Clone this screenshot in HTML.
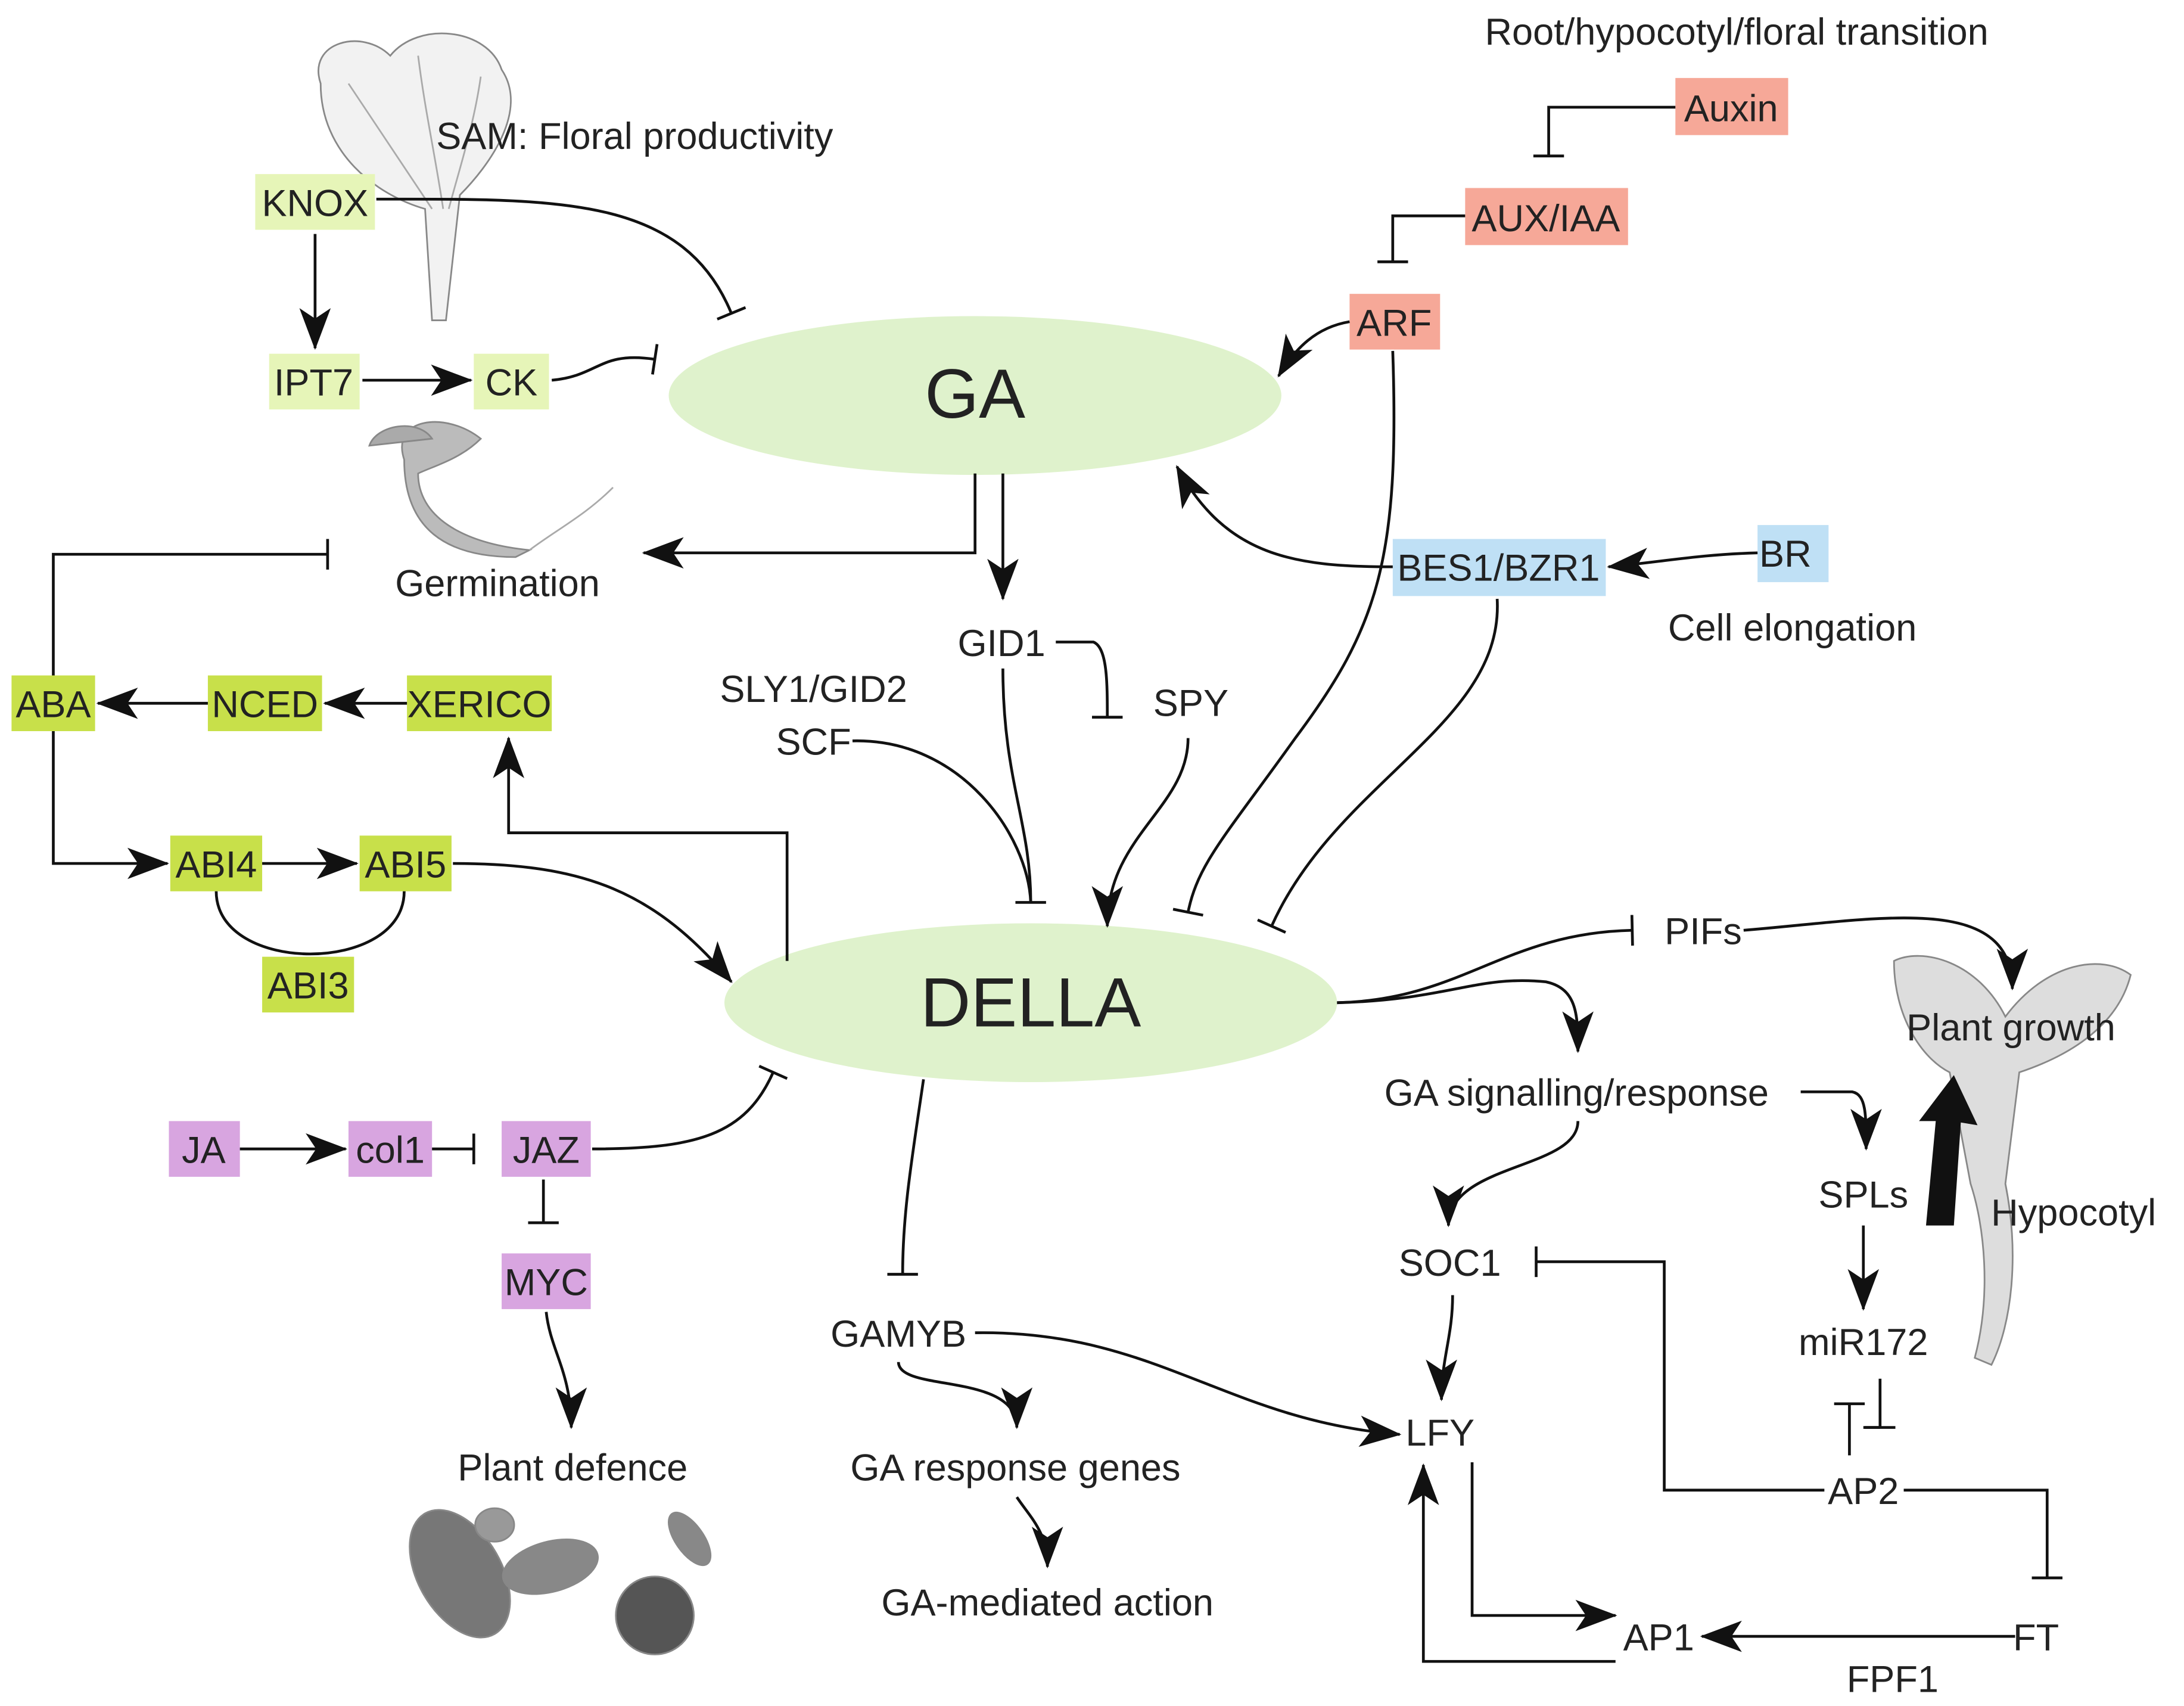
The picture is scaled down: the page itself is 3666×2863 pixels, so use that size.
<!DOCTYPE html>
<html><head><meta charset="utf-8"><style>
html,body{margin:0;padding:0;background:#fff;}
svg{display:block;}
text{font-family:"Liberation Sans",sans-serif;fill:#222;}
</style></head><body>
<svg width="3666" height="2863" viewBox="0 0 1568 1225" xmlns="http://www.w3.org/2000/svg">
<defs>
<marker id="a" markerUnits="userSpaceOnUse" markerWidth="30" markerHeight="30" viewBox="0 0 24 18" refX="23" refY="9" orient="auto"><path d="M0,0 L24,9 L0,18 L6,9 z" fill="#111"/></marker>
<marker id="b" markerUnits="userSpaceOnUse" markerWidth="4" markerHeight="24" viewBox="-2 -12 4 24" refX="0" refY="0" orient="auto"><path d="M0,-11 L0,11" stroke="#111" stroke-width="2"/></marker>
</defs>
<rect width="1568" height="1225" fill="#fff"/>

<!-- illustrations -->
<g stroke="#888" stroke-width="1.2">
<path d="M230,60 C220,30 260,20 280,40 C300,15 350,20 360,50 C380,80 350,120 330,140 L320,230 L310,230 L305,150 C270,140 230,110 230,60 z" fill="#f2f2f2"/>
<path d="M250,60 C270,90 290,120 310,150 M300,40 C305,80 312,110 318,150 M345,55 C340,90 330,120 322,150" fill="none" stroke="#aaa"/>
<path d="M290,330 C280,300 320,295 345,315 C330,330 310,335 300,340 C300,370 330,390 380,395 L370,400 C320,400 290,380 290,330 z" fill="#bbb"/>
<path d="M265,320 C270,305 300,300 310,315 Z" fill="#aaa"/>
<path d="M380,395 C400,380 420,370 440,350" fill="none" stroke="#aaa"/>
<ellipse cx="330" cy="1130" rx="30" ry="50" transform="rotate(-30 330 1130)" fill="#777"/>
<ellipse cx="395" cy="1125" rx="35" ry="18" transform="rotate(-15 395 1125)" fill="#888"/>
<ellipse cx="355" cy="1095" rx="14" ry="12" fill="#999"/>
<ellipse cx="495" cy="1105" rx="10" ry="22" transform="rotate(-35 495 1105)" fill="#888"/>
<circle cx="470" cy="1160" r="28" fill="#555"/>
<path d="M1360,690 C1380,680 1420,690 1440,730 C1470,690 1510,685 1530,700 C1520,740 1480,760 1450,770 L1440,850 C1450,900 1445,950 1430,980 L1418,975 C1430,930 1425,880 1415,850 L1400,770 C1380,760 1360,730 1360,690 z" fill="#ddd"/>
</g>
<path d="M1383,880 L1390,805 L1378,805 L1403,772 L1420,808 L1408,806 L1403,880 z" fill="#111"/>

<!-- ellipses -->
<ellipse cx="700" cy="284" rx="220" ry="57" fill="#dff2cc"/>
<text x="700" y="300" font-size="50" text-anchor="middle">GA</text>
<ellipse cx="740" cy="720" rx="220" ry="57" fill="#dff2cc"/>
<text x="740" y="737" font-size="50" text-anchor="middle">DELLA</text>

<!-- boxes -->
<g font-size="27">
<rect x="183" y="125" width="86" height="40" fill="#e6f5b8"/><text x="226" y="155" text-anchor="middle">KNOX</text>
<rect x="193" y="254" width="65" height="40" fill="#e6f5b8"/><text x="225" y="284" text-anchor="middle">IPT7</text>
<rect x="340" y="254" width="54" height="40" fill="#e6f5b8"/><text x="367" y="284" text-anchor="middle">CK</text>
<rect x="1203" y="56" width="81" height="41" fill="#f6a898"/><text x="1243" y="87" text-anchor="middle">Auxin</text>
<rect x="1052" y="135" width="117" height="41" fill="#f6a898"/><text x="1110" y="166" text-anchor="middle">AUX/IAA</text>
<rect x="969" y="211" width="65" height="40" fill="#f6a898"/><text x="1001" y="241" text-anchor="middle">ARF</text>
<rect x="1000" y="387" width="153" height="41" fill="#bfe0f5"/><text x="1076" y="417" text-anchor="middle">BES1/BZR1</text>
<rect x="1262" y="377" width="51" height="41" fill="#bfe0f5"/><text x="1282" y="407" text-anchor="middle">BR</text>
<rect x="8" y="485" width="60" height="40" fill="#c8e04a"/><text x="38" y="515" text-anchor="middle">ABA</text>
<rect x="149" y="485" width="82" height="40" fill="#c8e04a"/><text x="190" y="515" text-anchor="middle">NCED</text>
<rect x="292" y="485" width="104" height="40" fill="#c8e04a"/><text x="344" y="515" text-anchor="middle">XERICO</text>
<rect x="122" y="600" width="66" height="40" fill="#c8e04a"/><text x="155" y="630" text-anchor="middle">ABI4</text>
<rect x="258" y="600" width="66" height="40" fill="#c8e04a"/><text x="291" y="630" text-anchor="middle">ABI5</text>
<rect x="188" y="687" width="66" height="40" fill="#c8e04a"/><text x="221" y="717" text-anchor="middle">ABI3</text>
<rect x="121" y="805" width="51" height="40" fill="#d8a5e0"/><text x="146" y="835" text-anchor="middle">JA</text>
<rect x="250" y="805" width="60" height="40" fill="#d8a5e0"/><text x="280" y="835" text-anchor="middle">col1</text>
<rect x="360" y="805" width="64" height="40" fill="#d8a5e0"/><text x="392" y="835" text-anchor="middle">JAZ</text>
<rect x="360" y="900" width="64" height="40" fill="#d8a5e0"/><text x="392" y="930" text-anchor="middle">MYC</text>

<!-- plain labels -->
<text x="1247" y="32" text-anchor="middle">Root/hypocotyl/floral transition</text>
<text x="313" y="107">SAM: Floral productivity</text>
<text x="357" y="428" text-anchor="middle">Germination</text>
<text x="1287" y="460" text-anchor="middle">Cell elongation</text>
<text x="719" y="471" text-anchor="middle">GID1</text>
<text x="855" y="514" text-anchor="middle">SPY</text>
<text x="584" y="504" text-anchor="middle">SLY1/GID2</text>
<text x="584" y="542" text-anchor="middle">SCF</text>
<text x="1223" y="678" text-anchor="middle">PIFs</text>
<text x="1444" y="747" text-anchor="middle">Plant growth</text>
<text x="1132" y="794" text-anchor="middle">GA signalling/response</text>
<text x="1338" y="867" text-anchor="middle">SPLs</text>
<text x="1489" y="880" text-anchor="middle">Hypocotyl</text>
<text x="1041" y="916" text-anchor="middle">SOC1</text>
<text x="1338" y="973" text-anchor="middle">miR172</text>
<text x="645" y="967" text-anchor="middle">GAMYB</text>
<text x="1034" y="1038" text-anchor="middle">LFY</text>
<text x="411" y="1063" text-anchor="middle">Plant defence</text>
<text x="729" y="1063" text-anchor="middle">GA response genes</text>
<text x="1338" y="1080" text-anchor="middle">AP2</text>
<text x="752" y="1160" text-anchor="middle">GA-mediated action</text>
<text x="1191" y="1185" text-anchor="middle">AP1</text>
<text x="1462" y="1185" text-anchor="middle">FT</text>
<text x="1359" y="1215" text-anchor="middle">FPF1</text>
</g>

<!-- edges -->
<g fill="none" stroke="#111" stroke-width="2">
<path d="M226,168 L226,250" marker-end="url(#a)"/>
<path d="M260,273 L338,273" marker-end="url(#a)"/>
<path d="M396,273 C430,270 430,252 470,258" marker-end="url(#b)"/>
<path d="M270,143 C400,143 490,140 525,225" marker-end="url(#b)"/>
<path d="M1203,77 L1112,77 L1112,112" marker-end="url(#b)"/>
<path d="M1052,155 L1000,155 L1000,188" marker-end="url(#b)"/>
<path d="M969,231 C945,235 930,250 918,270" marker-end="url(#a)"/>
<path d="M1000,252 C1005,400 990,450 930,530 C880,600 860,620 853,655" marker-end="url(#b)"/>
<path d="M1262,397 C1220,398 1190,404 1155,407" marker-end="url(#a)"/>
<path d="M1000,407 C930,407 880,400 845,335" marker-end="url(#a)"/>
<path d="M1075,430 C1080,520 960,560 913,665" marker-end="url(#b)"/>
<path d="M700,340 L700,397 L462,397" marker-end="url(#a)"/>
<path d="M720,340 L720,430" marker-end="url(#a)"/>
<path d="M758,461 L785,461 C795,465 795,490 795,515" marker-end="url(#b)"/>
<path d="M720,480 C720,560 740,590 740,648" marker-end="url(#b)"/>
<path d="M612,532 C690,530 738,600 740,648"/>
<path d="M853,530 C853,580 795,600 795,665" marker-end="url(#a)"/>
<path d="M38,485 L38,398 L235,398" marker-end="url(#b)"/>
<path d="M292,505 L233,505" marker-end="url(#a)"/>
<path d="M149,505 L70,505" marker-end="url(#a)"/>
<path d="M38,525 L38,620 L120,620" marker-end="url(#a)"/>
<path d="M188,620 L256,620" marker-end="url(#a)"/>
<path d="M155,640 C155,700 290,700 290,640"/>
<path d="M325,620 C420,620 470,640 525,705" marker-end="url(#a)"/>
<path d="M565,690 L565,598 L365,598 L365,530" marker-end="url(#a)"/>
<path d="M172,825 L248,825" marker-end="url(#a)"/>
<path d="M310,825 L340,825" marker-end="url(#b)"/>
<path d="M425,825 C500,825 535,815 555,770" marker-end="url(#b)"/>
<path d="M390,847 L390,878" marker-end="url(#b)"/>
<path d="M392,942 C395,970 410,985 410,1025" marker-end="url(#a)"/>
<path d="M663,775 C655,830 648,870 648,915" marker-end="url(#b)"/>
<path d="M645,978 C645,1000 730,985 730,1025" marker-end="url(#a)"/>
<path d="M730,1075 C740,1090 752,1100 752,1125" marker-end="url(#a)"/>
<path d="M700,957 C830,955 880,1020 1005,1030" marker-end="url(#a)"/>
<path d="M960,720 C1050,718 1080,670 1172,668" marker-end="url(#b)"/>
<path d="M1252,668 C1350,660 1445,640 1445,710" marker-end="url(#a)"/>
<path d="M960,720 C1040,718 1060,700 1110,705 C1133,710 1133,730 1133,755" marker-end="url(#a)"/>
<path d="M1133,805 C1133,840 1040,835 1040,880" marker-end="url(#a)"/>
<path d="M1293,784 L1330,784 C1340,786 1340,800 1340,825" marker-end="url(#a)"/>
<path d="M1338,880 L1338,940" marker-end="url(#a)"/>
<path d="M1350,990 L1350,1025" marker-end="url(#b)"/>
<path d="M1338,1025 L1350,1025"/>
<path d="M1328,1045 L1328,1008" marker-end="url(#b)"/>
<path d="M1310,1070 L1195,1070 L1195,906 L1103,906" marker-end="url(#b)"/>
<path d="M1367,1070 L1470,1070 L1470,1133" marker-end="url(#b)"/>
<path d="M1043,930 C1043,960 1035,975 1035,1005" marker-end="url(#a)"/>
<path d="M1057,1050 L1057,1160 L1160,1160" marker-end="url(#a)"/>
<path d="M1447,1175 L1222,1175" marker-end="url(#a)"/>
<path d="M1160,1193 L1022,1193 L1022,1052" marker-end="url(#a)"/>
</g>
</svg>
</body></html>
